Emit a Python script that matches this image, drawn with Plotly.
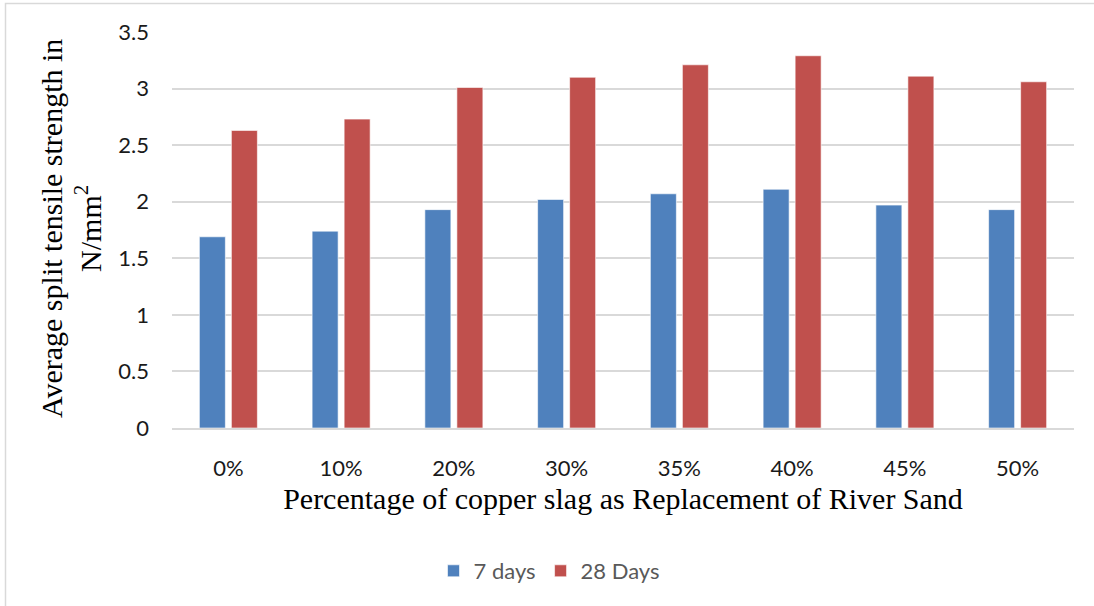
import plotly.graph_objects as go

# Split tensile strength (N/mm²) for copper slag replacement levels
categories = ["0%", "10%", "20%", "30%", "35%", "40%", "45%", "50%"]
days7 = [1.69, 1.74, 1.93, 2.02, 2.07, 2.11, 1.97, 1.93]
days28 = [2.63, 2.73, 3.01, 3.10, 3.21, 3.29, 3.11, 3.06]
y_ticks = [0, 0.5, 1, 1.5, 2, 2.5, 3, 3.5]
y_tick_text = ["0", "0.5", "1", "1.5", "2", "2.5", "3", "3.5"]

W, H = 1094, 606
L, R, T, B = 172, 20, 32, 178
pw, ph = W - L - R, H - T - B


def px_x(px):
    return (px - L) / pw


def px_y(py):
    return (H - B - py) / ph


fig = go.Figure()
fig.add_trace(go.Bar(
    x=categories, y=days7, name="7 days",
    marker=dict(color="#4F81BD", line=dict(color="rgba(255,255,255,0.6)", width=1)),
))
fig.add_trace(go.Bar(
    x=categories, y=days28, name="28 Days",
    marker=dict(color="#C0504D", line=dict(color="rgba(255,255,255,0.6)", width=1)),
))

serif = "Liberation Serif, Times New Roman, serif"
sans = "Lato, Calibri, sans-serif"

fig.update_layout(
    width=W, height=H,
    margin=dict(l=L, r=R, t=T, b=B),
    paper_bgcolor="white", plot_bgcolor="white",
    barmode="group", bargap=0.432, bargroupgap=0.1875,
    showlegend=True,
    legend=dict(
        orientation="h", x=px_x(549), y=px_y(571),
        xanchor="center", yanchor="middle",
        font=dict(family=sans, size=22, color="#595959"),
        itemwidth=30, traceorder="normal",
    ),
    xaxis=dict(
        showgrid=False, showline=True, linecolor="#d9d9d9", linewidth=2,
        ticks="", ticklabelstandoff=20,
        tickfont=dict(family=sans, size=22, color="#1a1a1a"),
        title=dict(text="Percentage of copper slag as Replacement of River Sand",
                   font=dict(family=serif, size=30, color="black"), standoff=8),
    ),
    yaxis=dict(
        range=[0, 3.5], tickvals=y_ticks, ticktext=y_tick_text,
        showgrid=True, gridcolor="#d9d9d9", gridwidth=2,
        zeroline=False, showline=False, ticks="", ticklabelstandoff=22,
        tickfont=dict(family=sans, size=22, color="#1a1a1a"),
    ),
    annotations=[dict(
        text="Average split tensile strength in<br>N/mm<sup>2</sup>",
        xref="paper", yref="paper", x=px_x(71), y=px_y(229),
        xanchor="center", yanchor="middle", textangle=-90, showarrow=False,
        font=dict(family=serif, size=30, color="black"),
    )],
    shapes=[dict(
        type="rect", xref="paper", yref="paper",
        x0=px_x(5.5), x1=px_x(1110), y0=px_y(620), y1=px_y(3.5),
        line=dict(color="#d9d9d9", width=1.5), fillcolor="rgba(0,0,0,0)", layer="below",
    )],
)

fig.write_html("out.html")
